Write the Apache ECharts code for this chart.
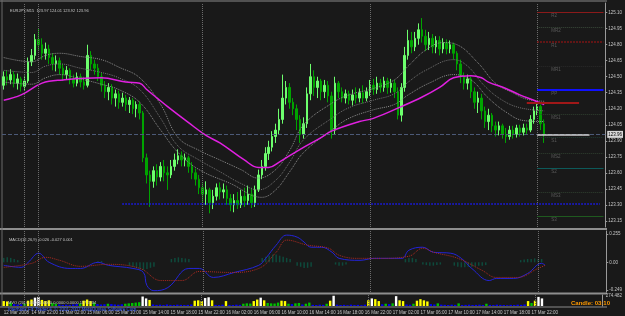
<!DOCTYPE html>
<html><head><meta charset="utf-8">
<script src="https://cdn.jsdelivr.net/npm/echarts@6/dist/echarts.min.js"></script>
<style>html,body{margin:0;padding:0;background:#191919;}#c{width:625px;height:316px;}</style>
</head><body><div id="c"></div>
<script>
// ---------- data ----------
const SLOTS = 173;
const tickLabels = ['12 Mar 2008','14 Mar 22:00','15 Mar 02:00','15 Mar 06:00','15 Mar 10:00','15 Mar 14:00','15 Mar 18:00','15 Mar 22:00','16 Mar 02:00','16 Mar 06:00','16 Mar 10:00','16 Mar 14:00','16 Mar 18:00','16 Mar 22:00','17 Mar 02:00','17 Mar 06:00','17 Mar 10:00','17 Mar 14:00','17 Mar 18:00','17 Mar 22:00'];
const priceTicks = [125.10,124.95,124.80,124.65,124.50,124.35,124.20,124.05,123.90,123.75,123.60,123.45,123.30,123.15];
const macdTicks = [0.255, 0, -0.249];
const volTicks = [274.482];

const opens  = [124.42,124.50,124.47,124.52,124.44,124.48,124.41,124.46,124.64,124.70,124.85,124.80,124.72,124.76,124.68,124.62,124.65,124.58,124.52,124.56,124.48,124.44,124.50,124.45,124.42,124.70,124.62,124.58,124.50,124.42,124.36,124.40,124.30,124.34,124.26,124.30,124.24,124.28,124.20,124.24,124.16,123.74,123.58,123.52,123.62,123.56,123.66,123.60,123.58,123.66,123.72,123.76,123.72,123.74,123.66,123.60,123.54,123.46,123.40,123.44,123.32,123.38,123.46,123.42,123.44,123.36,123.30,123.34,123.30,123.38,123.34,123.40,123.32,123.44,123.58,123.66,123.78,123.84,123.94,124.00,124.10,124.30,124.40,124.26,124.20,124.10,123.96,124.06,124.34,124.50,124.40,124.46,124.36,124.42,124.32,124.00,124.44,124.36,124.30,124.34,124.28,124.33,124.30,124.35,124.30,124.36,124.42,124.38,124.44,124.40,124.46,124.40,124.44,124.36,124.14,124.40,124.70,124.84,124.78,124.86,124.94,124.88,124.80,124.86,124.78,124.84,124.76,124.82,124.76,124.80,124.72,124.62,124.50,124.44,124.48,124.36,124.26,124.30,124.18,124.08,124.14,124.04,124.00,124.04,123.96,123.94,124.00,123.96,124.02,123.98,124.02,124.00,124.10,124.18,124.22,124.06];
const closes = [124.50,124.47,124.52,124.44,124.48,124.41,124.46,124.64,124.70,124.85,124.80,124.72,124.76,124.68,124.62,124.65,124.58,124.52,124.56,124.48,124.44,124.50,124.45,124.42,124.70,124.62,124.58,124.50,124.42,124.36,124.40,124.30,124.34,124.26,124.30,124.24,124.28,124.20,124.24,124.16,123.74,123.58,123.52,123.62,123.56,123.66,123.60,123.58,123.66,123.72,123.76,123.72,123.74,123.66,123.60,123.54,123.46,123.40,123.44,123.32,123.38,123.46,123.42,123.44,123.36,123.30,123.34,123.30,123.38,123.34,123.40,123.32,123.44,123.58,123.66,123.78,123.84,123.94,124.00,124.10,124.30,124.40,124.26,124.20,124.10,123.96,124.06,124.34,124.50,124.40,124.46,124.36,124.42,124.32,124.00,124.44,124.36,124.30,124.34,124.28,124.33,124.30,124.35,124.30,124.36,124.42,124.38,124.44,124.40,124.46,124.40,124.44,124.36,124.14,124.40,124.70,124.84,124.78,124.86,124.94,124.88,124.80,124.86,124.78,124.84,124.76,124.82,124.76,124.80,124.72,124.62,124.50,124.44,124.48,124.36,124.26,124.30,124.18,124.08,124.14,124.04,124.00,124.04,123.96,123.94,124.00,123.96,124.02,123.98,124.02,124.00,124.10,124.18,124.22,124.06,123.96];
const lows   = [124.38,124.42,124.43,124.40,124.38,124.36,124.37,124.44,124.60,124.66,124.74,124.66,124.66,124.62,124.56,124.55,124.52,124.46,124.47,124.43,124.40,124.41,124.40,124.38,124.40,124.56,124.52,124.46,124.36,124.30,124.28,124.24,124.22,124.20,124.22,124.18,124.16,124.15,124.12,124.10,123.70,123.50,123.28,123.46,123.48,123.52,123.52,123.44,123.55,123.62,123.68,123.66,123.66,123.60,123.54,123.48,123.40,123.32,123.30,123.22,123.26,123.34,123.35,123.36,123.30,123.24,123.23,123.26,123.27,123.28,123.30,123.27,123.28,123.42,123.54,123.62,123.72,123.80,123.88,123.96,124.06,124.24,124.20,124.14,124.00,123.88,123.92,124.02,124.28,124.32,124.30,124.28,124.30,124.26,123.92,123.96,124.30,124.26,124.25,124.24,124.23,124.25,124.26,124.25,124.27,124.32,124.33,124.34,124.35,124.36,124.34,124.35,124.30,124.10,124.08,124.36,124.66,124.72,124.74,124.80,124.82,124.74,124.75,124.72,124.72,124.70,124.72,124.71,124.72,124.66,124.56,124.44,124.38,124.38,124.30,124.20,124.16,124.10,124.02,124.00,123.98,123.94,123.95,123.92,123.88,123.91,123.92,123.93,123.94,123.95,123.96,123.98,124.06,124.14,124.00,123.88];
const highs  = [124.55,124.56,124.57,124.55,124.53,124.50,124.51,124.68,124.76,124.90,124.95,124.86,124.82,124.80,124.72,124.70,124.68,124.62,124.60,124.58,124.52,124.54,124.53,124.50,124.80,124.74,124.66,124.62,124.54,124.46,124.44,124.43,124.38,124.37,124.35,124.33,124.31,124.30,124.27,124.27,124.18,123.78,123.62,123.66,123.68,123.70,123.72,123.66,123.72,123.78,123.82,123.80,123.78,123.76,123.70,123.64,123.58,123.50,123.52,123.46,123.44,123.50,123.51,123.50,123.48,123.40,123.40,123.42,123.44,123.46,123.48,123.46,123.48,123.63,123.72,123.84,123.90,123.99,124.06,124.20,124.52,124.46,124.44,124.30,124.24,124.14,124.12,124.40,124.62,124.56,124.50,124.48,124.47,124.46,124.36,124.50,124.46,124.40,124.38,124.37,124.38,124.40,124.39,124.42,124.40,124.47,124.48,124.50,124.48,124.50,124.49,124.48,124.47,124.40,124.44,124.78,124.94,124.92,124.92,125.00,125.05,124.94,124.92,124.90,124.88,124.88,124.86,124.85,124.84,124.82,124.74,124.66,124.54,124.52,124.50,124.40,124.36,124.34,124.22,124.20,124.16,124.08,124.08,124.06,124.02,124.04,124.04,124.05,124.05,124.06,124.06,124.14,124.22,124.25,124.24,124.10];
const volumes = [130,120,90,50,40,45,60,140,170,220,240,160,130,150,80,60,40,30,35,30,40,50,70,140,170,130,90,50,40,45,60,50,40,35,45,60,70,80,90,100,250,200,160,40,30,35,25,40,30,25,35,30,25,30,40,140,150,130,210,230,150,30,25,35,130,30,25,35,30,60,70,65,130,170,220,150,80,70,65,90,140,130,60,50,70,80,40,60,90,30,25,35,30,60,140,270,35,25,30,20,35,25,30,20,35,150,200,180,130,45,60,50,70,260,150,130,40,35,60,140,180,150,120,50,40,70,35,30,25,35,30,70,25,30,35,25,30,35,25,60,30,25,35,30,25,20,30,25,35,30,40,130,80,140,240,200];

// moving averages: [bar index, price]
const maMagenta = [[0,124.28],[5,124.33],[11,124.44],[17,124.47],[28,124.49],[35,124.45],[39,124.44],[41,124.38],[44,124.30],[47,124.22],[53,124.07],[58,123.95],[62,123.88],[69,123.72],[73,123.65],[76,123.65],[79,123.70],[85,123.82],[91,123.93],[94,123.99],[102,124.08],[106,124.11],[114,124.22],[120,124.31],[125,124.40],[129,124.49],[134,124.51],[137,124.49],[139,124.45],[144,124.39],[148,124.33],[152,124.28],[155,124.24]];
const bandUpper = [[0,124.68],[8,124.64],[12,124.70],[16,124.72],[22,124.69],[28,124.66],[33,124.59],[39,124.49],[45,124.24],[50,123.93],[56,123.81],[62,123.72],[68,123.63],[73,123.55],[78,123.63],[82,123.81],[86,124.05],[94,124.25],[99,124.33],[106,124.39],[112,124.47],[116,124.60],[121,124.75],[126,124.82],[130,124.80],[136,124.63],[141,124.44],[146,124.35],[150,124.29],[155,124.27]];
const bandMid = [[0,124.56],[8,124.54],[12,124.60],[16,124.62],[22,124.58],[28,124.54],[33,124.49],[39,124.38],[45,124.11],[50,123.85],[56,123.72],[62,123.61],[68,123.50],[73,123.44],[78,123.53],[82,123.70],[86,123.91],[94,124.11],[99,124.21],[106,124.28],[112,124.34],[116,124.45],[121,124.56],[129,124.66],[133,124.60],[138,124.41],[143,124.28],[148,124.21],[155,124.18]];
const bandLower = [[0,124.45],[8,124.43],[12,124.49],[16,124.52],[22,124.48],[28,124.43],[33,124.38],[39,124.26],[45,124.00],[50,123.79],[56,123.63],[65,123.50],[74,123.37],[78,123.44],[82,123.61],[86,123.79],[94,124.00],[99,124.11],[106,124.19],[112,124.24],[116,124.33],[122,124.44],[129,124.52],[134,124.47],[139,124.30],[144,124.17],[149,124.09],[155,124.08]];

const macdMain = [[0,-0.027],[5,-0.045],[7,0.0],[10,0.082],[13,0.0],[19,-0.055],[22,-0.055],[27,0.0],[30,-0.027],[37,-0.055],[40,-0.091],[41,-0.209],[43,-0.255],[47,-0.227],[53,-0.055],[56,-0.055],[60,-0.136],[66,-0.091],[73,-0.027],[75,0.036],[78,0.155],[81,0.245],[84,0.227],[86,0.182],[88,0.136],[91,0.136],[94,0.091],[96,0.036],[102,0.018],[106,0.036],[114,0.036],[116,0.109],[120,0.136],[123,0.091],[128,0.082],[131,0.036],[134,-0.055],[139,-0.164],[141,-0.145],[146,-0.145],[150,-0.100],[154,-0.009],[155,-0.026]];
const macdSignal = [[0,-0.045],[8,-0.009],[12,0.045],[16,0.018],[22,-0.036],[30,-0.018],[39,-0.055],[45,-0.164],[51,-0.164],[56,-0.082],[65,-0.091],[73,-0.055],[78,0.091],[81,0.200],[87,0.155],[93,0.127],[96,0.064],[101,0.036],[108,0.036],[116,0.055],[120,0.127],[123,0.091],[130,0.036],[137,-0.073],[141,-0.136],[147,-0.136],[153,-0.055],[155,-0.027]];
const macdHist = [[0,0.04],[1,0.045],[2,0.04],[3,0.03],[4,0.02],[27,0.01],[28,0.012],[36,-0.03],[37,-0.04],[38,-0.05],[39,-0.06],[40,-0.07],[41,-0.06],[42,-0.05],[43,-0.04],[48,0.03],[49,0.04],[50,0.045],[51,0.04],[52,0.035],[53,0.03],[74,0.04],[75,0.05],[76,0.06],[77,0.07],[78,0.07],[79,0.06],[80,0.05],[81,0.04],[82,0.03],[84,-0.03],[85,-0.04],[86,-0.05],[87,-0.05],[88,-0.04],[95,-0.02],[96,-0.03],[97,-0.03],[98,-0.02],[115,0.03],[116,0.04],[117,0.04],[118,0.03],[120,-0.02],[121,-0.025],[122,-0.03],[123,-0.03],[124,-0.025],[125,-0.02],[129,-0.03],[130,-0.04],[131,-0.045],[132,-0.045],[133,-0.04],[134,-0.04],[135,-0.035],[136,-0.03],[137,-0.03],[138,-0.025],[148,0.02],[149,0.025],[150,0.03],[151,0.03],[152,0.035],[153,0.03],[154,0.03]];

const pivotNames  = ['R2','MR2','R1','MR1','PP','MS1','S1','MS2','S2','MS3','S3'];
const pivotValues = [125.10,124.965,124.825,124.60,124.376,124.15,123.93,123.785,123.645,123.42,123.195];
const bidPrice = 123.96;
const dayOpenLevel = 124.26;
const blueLevel = 123.31;
const separatorBars = [6,10,57,105,153];

// ---------- styles ----------
const FONT = 'Liberation Sans';
const LBL = '#c4c4c4';
const pivotStyle = {
  R2:{color:'#8b1a1a',type:'solid',width:1}, MR2:{color:'#3a4a3a',type:'dotted',width:1},
  R1:{color:'#9a1515',type:'dotted',width:1.5}, MR1:{color:'#2a2a2a',type:'dotted',width:1},
  PP:{color:'#1010ff',type:'solid',width:2}, MS1:{color:'#2f3f2f',type:'dotted',width:1},
  S1:{color:'#1f3a30',type:'dotted',width:1}, MS2:{color:'#2f3f2f',type:'dotted',width:1},
  S2:{color:'#0d5a5a',type:'solid',width:1}, MS3:{color:'#2f3f2f',type:'dotted',width:1},
  S3:{color:'#1f5a1f',type:'solid',width:1}
};

const categories = Array.from({length: SLOTS}, (_, i) => String(i));
const candleData = opens.map((o, i) => [o, closes[i], lows[i], highs[i]]);
function volColor(v){ return v >= 200 ? '#ffffff' : v >= 120 ? '#ffff00' : v >= 55 ? '#00c000' : '#0000ff'; }

const sepLine = (extra) => ({
  symbol: ['none','none'], silent: true, animation: false,
  label: {show:false},
  lineStyle: {color:'#6c6c6c', type:'dotted', width:1},
  data: separatorBars.map(b => ({xAxis: b})).concat(extra || [])
});

const pivotLines = pivotNames.map((n, k) => [
  {xAxis: 153, yAxis: pivotValues[k], lineStyle: pivotStyle[n],
   label: {show:true, formatter: n, position:'insideStartBottom', distance:[14,1], color:'#5a5a5a', fontSize:4.5, fontFamily: FONT}},
  {xAxis: 172, yAxis: pivotValues[k]}
]);

const chart = echarts.init(document.getElementById('c'), null, {renderer:'canvas'});
const option = {
  backgroundColor: '#191919',
  animation: false,
  title: [
    {text:'EURJPY,M15  123.97 124.01 123.92 123.96', left:5, top:4, textStyle:{color:LBL, fontSize:4, fontWeight:'normal', fontFamily:FONT}},
    {text:'MACD(12,26,9) -0.026 -0.027 0.001', left:4, top:233, textStyle:{color:LBL, fontSize:4, fontWeight:'normal', fontFamily:FONT}},
    {text:'MVO (20) 0.0000 0.0000 0.0000 0.0000 117.2534', left:3, top:296, textStyle:{color:LBL, fontSize:4, fontWeight:'normal', fontFamily:FONT}},
    {text:'Interbank FX Trader 4, © 2001-2007 MetaQuotes Software Corp.', left:3, top:302, textStyle:{color:'#3a5cff', fontSize:4.5, fontWeight:'normal', fontFamily:FONT}},
    {text:'Candle: 03:10', left:566, top:295, textStyle:{color:'#ff9a00', fontSize:6, fontWeight:'bold', fontFamily:FONT}}
  ],
  graphic: [
    {type:'rect', shape:{x:0, y:0.5, width:607, height:1}, style:{fill:'#8a8a8a'}, silent:true},
    {type:'rect', shape:{x:0, y:228, width:607, height:2}, style:{fill:'#8e8e8e'}, silent:true},
    {type:'rect', shape:{x:0, y:292.5, width:607, height:2}, style:{fill:'#8e8e8e'}, silent:true},
    {type:'rect', shape:{x:0, y:306.5, width:607, height:1}, style:{fill:'#8a8a8a'}, silent:true},
    {type:'rect', shape:{x:1.5, y:0, width:1, height:307}, style:{fill:'#6a6a6a'}, silent:true}
  ],
  grid: [
    {left:2, right:18, top:3, height:224},
    {left:2, right:18, top:231, height:61},
    {left:2, right:18, top:295, height:11}
  ],
  xAxis: [0,1,2].map(g => ({
    type:'category', gridIndex:g, data:categories, boundaryGap:true,
    axisLine:{show:false}, axisTick:{show:false}, splitLine:{show:false},
    axisLabel: g === 2 ? {
      show:true, interval:(idx) => idx % 8 === 0 && idx / 8 < tickLabels.length,
      formatter:(v) => tickLabels[Number(v) / 8] || '', align:'left', margin:4,
      color:LBL, fontSize:4.5, fontFamily:FONT, hideOverlap:false
    } : {show:false}
  })),
  yAxis: [
    {type:'value', gridIndex:0, position:'right', min:123.092, max:125.191, scale:true,
     axisLine:{show:true, lineStyle:{color:'#9a9a9a'}}, splitLine:{show:false},
     axisTick:{show:true, length:2, customValues:priceTicks, lineStyle:{color:'#9a9a9a'}},
     axisLabel:{customValues:priceTicks, formatter:(v)=>v.toFixed(2), color:LBL, fontSize:4.5, fontFamily:FONT, margin:3}},
    {type:'value', gridIndex:1, position:'right', min:-0.267, max:0.282,
     axisLine:{show:true, lineStyle:{color:'#9a9a9a'}}, splitLine:{show:false},
     axisTick:{show:true, length:2, customValues:macdTicks, lineStyle:{color:'#9a9a9a'}},
     axisLabel:{customValues:macdTicks, formatter:(v)=> v === 0 ? '0.00' : String(v), color:LBL, fontSize:4.5, fontFamily:FONT, margin:3}},
    {type:'value', gridIndex:2, position:'right', min:0, max:290,
     axisLine:{show:true, lineStyle:{color:'#9a9a9a'}}, splitLine:{show:false},
     axisTick:{show:false},
     axisLabel:{customValues:volTicks, formatter:(v)=>'274.482', color:LBL, fontSize:4.5, fontFamily:FONT, margin:3}}
  ],
  series: [
    {type:'candlestick', name:'price', xAxisIndex:0, yAxisIndex:0, data:candleData, barWidth:2,
     itemStyle:{color:'#6dff6d', color0:'#00a400', borderColor:'#6dff6d', borderColor0:'#00a400', borderWidth:1},
     markLine: {
       symbol:['none','none'], silent:true, animation:false,
       data: [
         {yAxis: bidPrice, lineStyle:{color:'#4c5a78', type:'dashed', width:1},
          label:{show:true, position:'end', formatter: bidPrice.toFixed(2), backgroundColor:'#d8d8d8', color:'#000', fontSize:4.5, fontFamily:FONT, padding:[1,1], distance:2}},
        ].concat(separatorBars.map(b => ({xAxis:b, lineStyle:{color:'#6c6c6c', type:'dotted', width:1}, label:{show:false}})))
         .concat(pivotLines)
         .concat([
           [{xAxis:150, yAxis:dayOpenLevel, lineStyle:{color:'#a01818', type:'solid', width:2}, label:{show:false}}, {xAxis:165, yAxis:dayOpenLevel}],
           [{xAxis:34, yAxis:blueLevel, lineStyle:{color:'#1a1aff', type:'dotted', width:1.5}, label:{show:false}}, {xAxis:171, yAxis:blueLevel}],
           [{xAxis:153, yAxis:bidPrice, lineStyle:{color:'#d0d0d0', type:'solid', width:1.5}, label:{show:false}}, {xAxis:168, yAxis:bidPrice}]
         ])
     }
    },
    {type:'line', name:'bandUpper', xAxisIndex:0, yAxisIndex:0, data:bandUpper, smooth:0.4, symbol:'none', lineStyle:{color:'#8c8c8c', width:1, type:'dotted'}},
    {type:'line', name:'bandMid', xAxisIndex:0, yAxisIndex:0, data:bandMid, smooth:0.4, symbol:'none', lineStyle:{color:'#707070', width:1, type:'dotted'}},
    {type:'line', name:'bandLower', xAxisIndex:0, yAxisIndex:0, data:bandLower, smooth:0.4, symbol:'none', lineStyle:{color:'#8c8c8c', width:1, type:'dotted'}},
    {type:'line', name:'ma', xAxisIndex:0, yAxisIndex:0, data:maMagenta, smooth:0.4, symbol:'none', lineStyle:{color:'#e020e0', width:1.5}},
    {type:'bar', name:'hist', xAxisIndex:1, yAxisIndex:1, data:macdHist, barWidth:1.5, itemStyle:{color:'#0e4a3c'}, markLine: sepLine()},
    {type:'line', name:'macd', xAxisIndex:1, yAxisIndex:1, data:macdMain, smooth:0.4, symbol:'none', lineStyle:{color:'#2424d8', width:1}},
    {type:'line', name:'signal', xAxisIndex:1, yAxisIndex:1, data:macdSignal, smooth:0.4, symbol:'none', lineStyle:{color:'#b02a20', width:1, type:'dotted'}},
    {type:'bar', name:'volume', xAxisIndex:2, yAxisIndex:2, barWidth:2.4,
     data: volumes.map(v => ({value:v, itemStyle:{color:volColor(v)}})), markLine: sepLine()}
  ]
};
chart.setOption(option);
</script></body></html>
